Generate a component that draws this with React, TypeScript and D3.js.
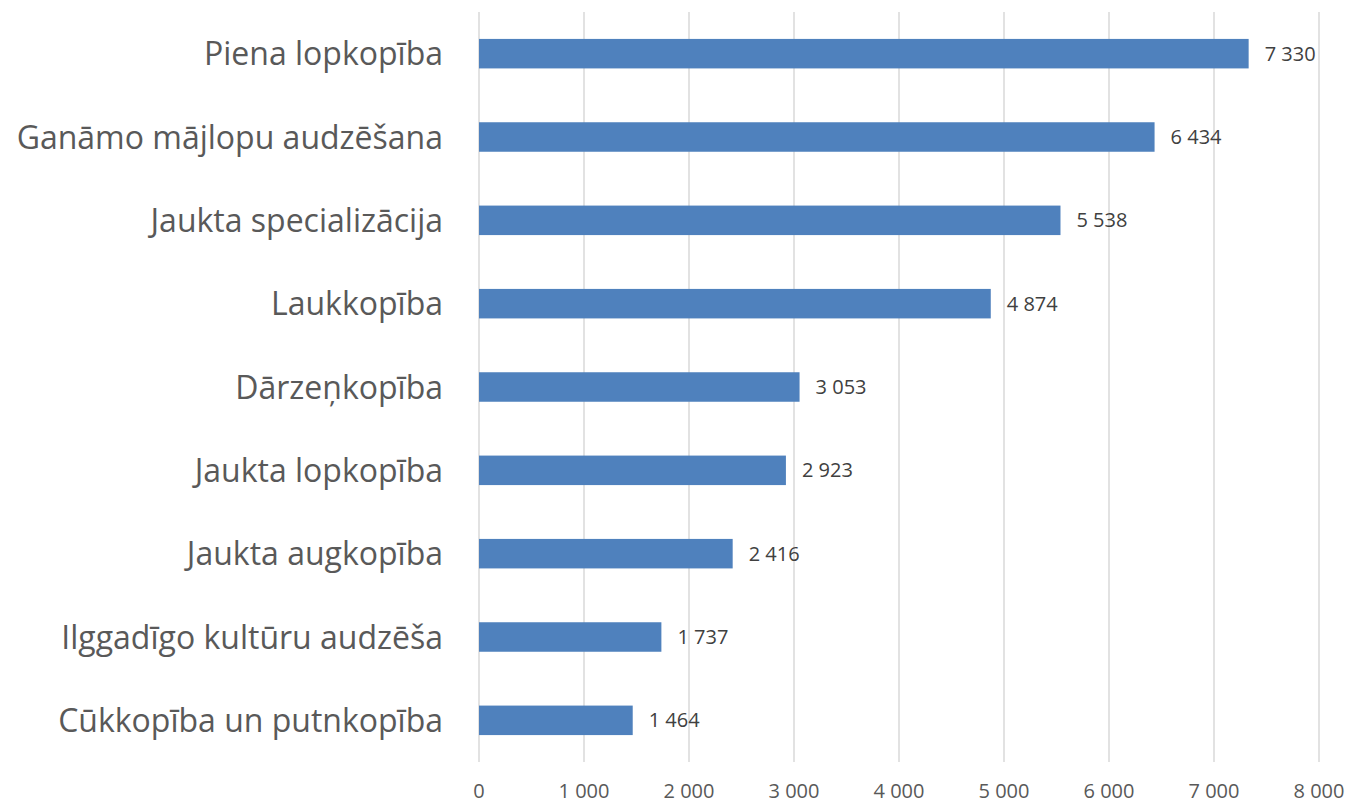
import React from "react";
import * as d3 from "d3";

const categories = [
  "Piena lopkopība",
  "Ganāmo mājlopu audzēšana",
  "Jaukta specializācija",
  "Laukkopība",
  "Dārzeņkopība",
  "Jaukta lopkopība",
  "Jaukta augkopība",
  "Ilggadīgo kultūru audzēša",
  "Cūkkopība un putnkopība",
];
const values = [7330, 6434, 5538, 4874, 3053, 2923, 2416, 1737, 1464];
const ticks = [0, 1000, 2000, 3000, 4000, 5000, 6000, 7000, 8000];

const fmt = (v: number) => d3.format(",")(v).replace(/,/g, " ");

export default function App() {
  const W = 1347, H = 804;
  const x = d3.scaleLinear().domain([0, 8000]).range([479, 1319]);
  const y = d3.scaleBand<string>().domain(categories).range([12, 762]).paddingInner(0.646).paddingOuter(0.323);
  const font = "'Open Sans', sans-serif";
  return (
    <svg width={W} height={H} style={{ position: "absolute", left: 0, top: 0, background: "#fff" }}>
      {ticks.map((t) => (
        <g key={t}>
          <line x1={x(t)} x2={x(t)} y1={12} y2={762} stroke="#D9D9D9" strokeWidth={1.5} />
          <text x={x(t)} y={798} textAnchor="middle" fontFamily={font} fontSize={20} fill="#595959">{fmt(t)}</text>
        </g>
      ))}
      {categories.map((c, i) => {
        const yy = y(c)!;
        const bw = y.bandwidth();
        return (
          <g key={c}>
            <rect x={x(0)} y={yy} width={x(values[i]) - x(0)} height={bw} fill="#4F81BD" />
            <text x={x(values[i]) + 16} y={yy + bw / 2 + 7} fontFamily={font} fontSize={20} fill="#404040">{fmt(values[i])}</text>
            <text x={443} y={yy + bw / 2 + 11.5} textAnchor="end" fontFamily={font} fontSize={32} fill="#595959">{c}</text>
          </g>
        );
      })}
    </svg>
  );
}
